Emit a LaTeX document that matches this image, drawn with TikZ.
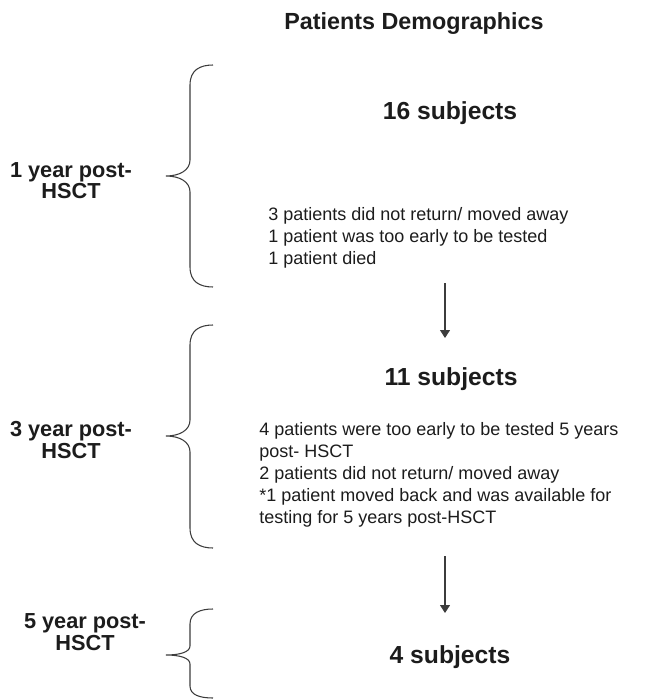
\documentclass[tikz,border=0pt]{standalone}
\usepackage{fontspec}
\setmainfont{Liberation Sans}
\usetikzlibrary{arrows.meta, positioning}
\definecolor{inkblack}{RGB}{28,28,28}
\definecolor{bracegray}{RGB}{60,60,60}

\begin{document}
\begin{tikzpicture}[
    % Global Styles (one unit = one pixel of the page)
    x=0.75pt,
    y=-0.75pt,
    % Node Styles (multi-line nodes sit on their last baseline)
    heading/.style={
        font=\bfseries\fontsize{17.5}{20}\selectfont,
        text=inkblack,
        inner sep=0pt,
        anchor=base
    },
    yearlabel/.style={
        font=\bfseries\fontsize{16.3}{13.5}\selectfont,
        text=inkblack,
        align=center,
        inner sep=0pt,
        anchor=base
    },
    cohort/.style={
        font=\bfseries\fontsize{18.5}{22}\selectfont,
        text=inkblack,
        inner sep=0pt,
        anchor=base
    },
    dropout/.style={
        font=\fontsize{13.5}{16.5}\selectfont,
        text=inkblack,
        align=left,
        inner sep=0pt,
        anchor=base west
    },
    bracket/.style={
        draw=bracegray,
        line width=0.8pt
    },
    flow/.style={
        -{Triangle[width=7.5pt,length=6pt]},
        draw=bracegray,
        line width=0.8pt
    }
]
    \useasboundingbox (0,0) rectangle (646,699);

    % --- Title ---
    \node[heading] (title) at (414,30) {Patients Demographics};

    % --- 1 year post-HSCT ---
    \node[yearlabel] (y1) at (71,198.5) {1 year post-\\HSCT};
    \draw[bracket] (213,65) .. controls (200,65) and (190,70) .. (190,85)
        -- (190,160) .. controls (190,170) and (180,176) .. (166,176)
        .. controls (180,176) and (190,182) .. (190,192)
        -- (190,267) .. controls (190,282) and (200,287) .. (213,287);
    \node[cohort] (sub16) at (450,119) {16 subjects};
    \node[dropout] (drop1) at (268,264) {3 patients did not return/ moved away\\
        1 patient was too early to be tested\\
        1 patient died};

    % --- 3 year post-HSCT ---
    \node[yearlabel] (y3) at (71,458) {3 year post-\\HSCT};
    \draw[bracket] (213,325) .. controls (200,325) and (190,330) .. (190,345)
        -- (190,420) .. controls (190,430) and (180,436) .. (166,436)
        .. controls (180,436) and (190,442) .. (190,452)
        -- (190,528) .. controls (190,543) and (200,548) .. (213,548);
    \node[cohort] (sub11) at (451,385) {11 subjects};
    \node[dropout] (drop2) at (259,523) {4 patients were too early to be tested 5 years\\
        post- HSCT\\
        2 patients did not return/ moved away\\
        *1 patient moved back and was available for\\
        testing for 5 years post-HSCT};

    % --- 5 year post-HSCT ---
    \node[yearlabel] (y5) at (85,650) {5 year post-\\HSCT};
    \draw[bracket] (213,609) .. controls (200,609) and (190,613) .. (190,624)
        -- (190,646) .. controls (190,652) and (180,655) .. (166,655)
        .. controls (180,655) and (190,658) .. (190,664)
        -- (190,686) .. controls (190,695) and (200,698) .. (213,698);
    \node[cohort] (sub4) at (450,663) {4 subjects};

    % --- Arrows between cohorts ---
    \coordinate (arr1top) at (445,283);
    \coordinate (arr1end) at (445,338);
    \coordinate (arr2top) at (445,556);
    \coordinate (arr2end) at (445,613);
    \draw[flow] (arr1top) -- (arr1end);
    \draw[flow] (arr2top) -- (arr2end);

\end{tikzpicture}
\end{document}
